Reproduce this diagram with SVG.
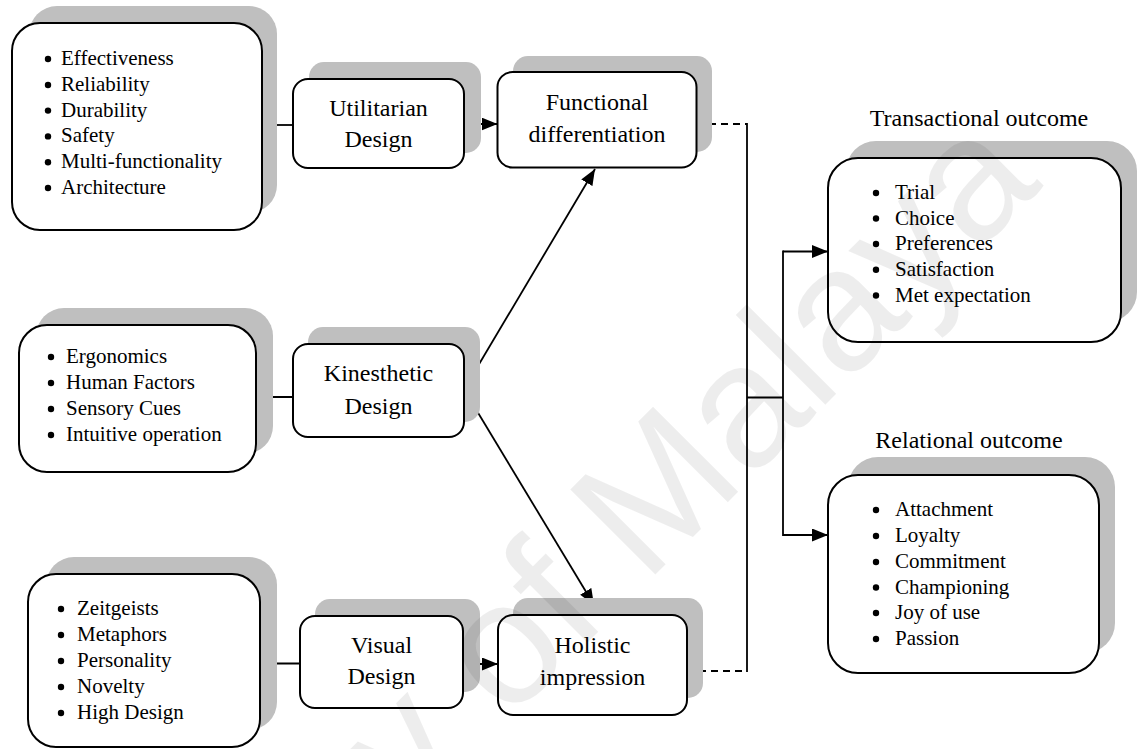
<svg xmlns="http://www.w3.org/2000/svg" width="1137" height="749" viewBox="0 0 1137 749">
  <style>
    .shadow { fill: #bfbfbf; stroke: none; }
    .box { fill: #ffffff; stroke: #000000; stroke-width: 2; }
    .label { font-family: "Liberation Serif", "Times New Roman", serif; font-size: 24px; fill: #000000; text-anchor: middle; }
    .item { font-family: "Liberation Serif", "Times New Roman", serif; font-size: 21px; fill: #000000; }
    .dot { fill: #000000; }
    .wire { fill: none; stroke: #000000; stroke-width: 1.8; }
    .dash { fill: none; stroke: #000000; stroke-width: 1.8; stroke-dasharray: 7 5; }
    .arrow { fill: none; stroke: #000000; stroke-width: 1.8; marker-end: url(#head); }
    .mark { font-family: "Liberation Sans", Arial, sans-serif; font-size: 175px; fill: #000000; fill-opacity: 0.07; }
  </style>
  <defs>
    <marker id="head" markerUnits="userSpaceOnUse" markerWidth="17" markerHeight="14" refX="16" refY="6.5" orient="auto">
      <path d="M0,0 L16,6.5 L0,13 Z" fill="#000000"/>
    </marker>
  </defs>

  <rect width="1137" height="749" fill="#ffffff"/>

  <!-- connectors -->
  <g id="connectors">
    <line class="wire" x1="262" y1="125" x2="293" y2="125"/>
    <line class="arrow" x1="464" y1="124" x2="497.5" y2="124"/>
    <line class="wire" x1="256" y1="397" x2="293" y2="397"/>
    <line class="arrow" x1="464" y1="389.5" x2="595" y2="169"/>
    <line class="arrow" x1="464" y1="389.5" x2="594" y2="605"/>
    <line class="wire" x1="260" y1="663.5" x2="300" y2="663.5"/>
    <line class="arrow" x1="463" y1="664" x2="498" y2="664"/>
    <line class="dash" x1="697" y1="124" x2="747" y2="124"/>
    <line class="dash" x1="687" y1="671" x2="747" y2="671"/>
    <line class="wire" x1="747" y1="123" x2="747" y2="672"/>
    <line class="wire" x1="747" y1="397.5" x2="783" y2="397.5"/>
    <line class="wire" x1="783" y1="250.6" x2="783" y2="535.9"/>
    <line class="arrow" x1="783" y1="251.5" x2="828" y2="251.5"/>
    <line class="arrow" x1="783" y1="535" x2="828" y2="535"/>
  </g>

  <!-- utilitarian attributes -->
  <g id="utilitarian-attributes">
    <rect class="shadow" x="29" y="6" width="248" height="207" rx="28"/>
    <rect class="box" x="12" y="23" width="250" height="207" rx="28"/>
    <circle class="dot" cx="48" cy="59" r="3.2"/>
    <circle class="dot" cx="48" cy="85" r="3.2"/>
    <circle class="dot" cx="48" cy="110.6" r="3.2"/>
    <circle class="dot" cx="48" cy="136.4" r="3.2"/>
    <circle class="dot" cx="48" cy="162.2" r="3.2"/>
    <circle class="dot" cx="48" cy="188" r="3.2"/>
    <text class="item" x="61" y="65">Effectiveness</text>
    <text class="item" x="61" y="90.8">Reliability</text>
    <text class="item" x="61" y="116.6">Durability</text>
    <text class="item" x="61" y="142.4">Safety</text>
    <text class="item" x="61" y="168.2">Multi-functionality</text>
    <text class="item" x="61" y="194">Architecture</text>
  </g>

  <!-- utilitarian design -->
  <g id="utilitarian-design">
    <rect class="shadow" x="309" y="62" width="172" height="91" rx="15"/>
    <rect class="box" x="293" y="79" width="171" height="89" rx="15"/>
    <text class="label" x="378.5" y="116">Utilitarian</text>
    <text class="label" x="378.5" y="147">Design</text>
  </g>

  <!-- functional differentiation -->
  <g id="functional-differentiation">
    <rect class="shadow" x="513" y="56" width="199" height="96" rx="15"/>
    <rect class="box" x="497.5" y="72" width="199" height="95.5" rx="15"/>
    <text class="label" x="597" y="110">Functional</text>
    <text class="label" x="597" y="141.5">differentiation</text>
  </g>

  <!-- kinesthetic attributes -->
  <g id="kinesthetic-attributes">
    <rect class="shadow" x="36" y="308" width="237" height="146" rx="28"/>
    <rect class="box" x="19" y="325" width="237" height="147" rx="28"/>
    <circle class="dot" cx="51" cy="357" r="3.2"/>
    <circle class="dot" cx="51" cy="383" r="3.2"/>
    <circle class="dot" cx="51" cy="409" r="3.2"/>
    <circle class="dot" cx="51" cy="435" r="3.2"/>
    <text class="item" x="66" y="363">Ergonomics</text>
    <text class="item" x="66" y="389">Human Factors</text>
    <text class="item" x="66" y="415">Sensory Cues</text>
    <text class="item" x="66" y="441">Intuitive operation</text>
  </g>

  <!-- kinesthetic design -->
  <g id="kinesthetic-design">
    <rect class="shadow" x="308" y="327" width="172" height="95" rx="15"/>
    <rect class="box" x="293" y="344" width="171" height="93" rx="15"/>
    <text class="label" x="378.5" y="381">Kinesthetic</text>
    <text class="label" x="378.5" y="414">Design</text>
  </g>

  <!-- visual attributes -->
  <g id="visual-attributes">
    <rect class="shadow" x="46" y="557" width="231" height="173" rx="28"/>
    <rect class="box" x="28" y="574" width="232" height="173" rx="28"/>
    <circle class="dot" cx="61" cy="609" r="3.2"/>
    <circle class="dot" cx="61" cy="635" r="3.2"/>
    <circle class="dot" cx="61" cy="661" r="3.2"/>
    <circle class="dot" cx="61" cy="687" r="3.2"/>
    <circle class="dot" cx="61" cy="713" r="3.2"/>
    <text class="item" x="77" y="615">Zeitgeists</text>
    <text class="item" x="77" y="641">Metaphors</text>
    <text class="item" x="77" y="667">Personality</text>
    <text class="item" x="77" y="693">Novelty</text>
    <text class="item" x="77" y="719">High Design</text>
  </g>

  <!-- visual design -->
  <g id="visual-design">
    <rect class="shadow" x="315" y="599" width="165" height="93" rx="15"/>
    <rect class="box" x="300" y="616" width="163" height="92" rx="15"/>
    <text class="label" x="381.5" y="653">Visual</text>
    <text class="label" x="381.5" y="684">Design</text>
  </g>

  <!-- holistic impression -->
  <g id="holistic-impression">
    <rect class="shadow" x="513" y="598" width="190" height="100" rx="15"/>
    <rect class="box" x="498" y="615" width="189" height="100" rx="15"/>
    <text class="label" x="592.5" y="653">Holistic</text>
    <text class="label" x="592.5" y="685">impression</text>
  </g>

  <!-- transactional outcome -->
  <g id="transactional-outcome">
    <text class="label" x="979" y="126">Transactional outcome</text>
    <rect class="shadow" x="846" y="141" width="291" height="181" rx="30"/>
    <rect class="box" x="828" y="158" width="293" height="184" rx="30"/>
    <circle class="dot" cx="876" cy="193" r="3.2"/>
    <circle class="dot" cx="876" cy="218.5" r="3.2"/>
    <circle class="dot" cx="876" cy="244" r="3.2"/>
    <circle class="dot" cx="876" cy="269.7" r="3.2"/>
    <circle class="dot" cx="876" cy="295.5" r="3.2"/>
    <text class="item" x="895" y="199">Trial</text>
    <text class="item" x="895" y="224.5">Choice</text>
    <text class="item" x="895" y="250">Preferences</text>
    <text class="item" x="895" y="275.7">Satisfaction</text>
    <text class="item" x="895" y="301.5">Met expectation</text>
  </g>

  <!-- relational outcome -->
  <g id="relational-outcome">
    <text class="label" x="969" y="448">Relational outcome</text>
    <rect class="shadow" x="848" y="457" width="267" height="196" rx="30"/>
    <rect class="box" x="828" y="475" width="271" height="198" rx="30"/>
    <circle class="dot" cx="876" cy="510" r="3.2"/>
    <circle class="dot" cx="876" cy="536" r="3.2"/>
    <circle class="dot" cx="876" cy="562" r="3.2"/>
    <circle class="dot" cx="876" cy="587.5" r="3.2"/>
    <circle class="dot" cx="876" cy="613" r="3.2"/>
    <circle class="dot" cx="876" cy="639" r="3.2"/>
    <text class="item" x="895" y="516">Attachment</text>
    <text class="item" x="895" y="542">Loyalty</text>
    <text class="item" x="895" y="568">Commitment</text>
    <text class="item" x="895" y="593.5">Championing</text>
    <text class="item" x="895" y="619">Joy of use</text>
    <text class="item" x="895" y="645">Passion</text>
  </g>

  <!-- faint institutional watermark laid across the page -->
  <g id="watermark">
    <text class="mark" transform="translate(-70,1300) rotate(-45)">University of Malaya</text>
  </g>
</svg>
